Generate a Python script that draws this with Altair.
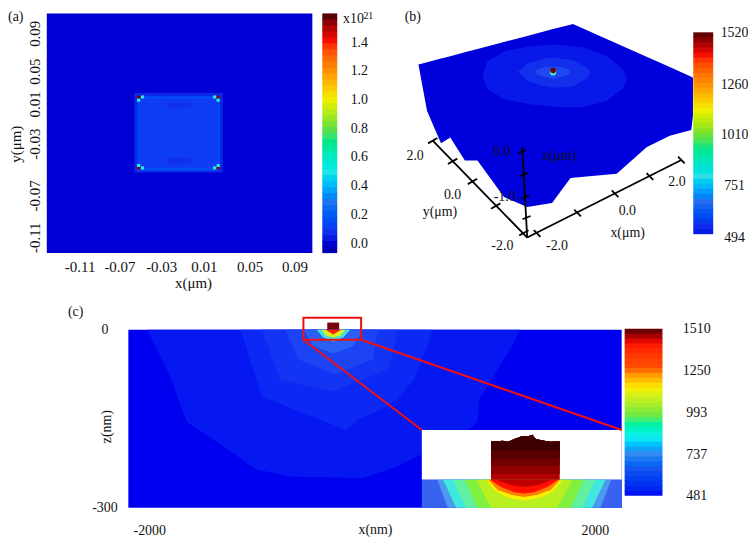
import altair as alt
import numpy as np
import pandas as pd

FONT = "Liberation Serif"
TXT = "#111111"

# ---------- panel (a): field in um ----------
a_cell_x0 = [-0.0593, -0.0565, -0.0565, -0.0565, -0.0563, 0.0175, -0.0290, -0.0290]
a_cell_x1 = [0.0227, 0.0200, 0.0200, 0.0200, -0.0541, 0.0200, -0.0068, -0.0068]
a_cell_y0 = [-0.0463, -0.0424, 0.0268, -0.0446, -0.0424, -0.0424, 0.0177, -0.0375]
a_cell_y1 = [0.0322, 0.0283, 0.0290, -0.0417, 0.0283, 0.0283, 0.0226, -0.0316]
a_cell_v = [0.06, 0.11, 0.16, 0.16, 0.14, 0.14, 0.08, 0.08]
a_spot_x = [-0.0553, 0.0184, -0.0553, 0.0184, -0.0517, 0.0151, -0.0517, 0.0151, -0.0553, 0.0184, -0.0553, 0.0184]
a_spot_y = [0.0282, 0.0282, -0.0417, -0.0417, 0.0282, 0.0282, -0.0417, -0.0417, 0.0250, 0.0250, -0.0393, -0.0393]
a_spot_v = [1.55, 1.55, 1.55, 1.55, 0.5, 0.5, 0.5, 0.5, 0.5, 0.5, 0.5, 0.5]
a_xticks = [-0.11, -0.0731, -0.0344, 0.0052, 0.0476, 0.0891]
a_yticks = [0.091, 0.0537, 0.0214, -0.0178, -0.0688, -0.11]
a_bar_labels = [0.0, 0.2, 0.4, 0.6, 0.8, 1.0, 1.2, 1.4]
a_stops = [-0.07, 0.0, 0.1, 0.3, 0.5, 0.8, 1.0, 1.2, 1.4, 1.52, 1.6]
a_colors = ["#0000a8", "#0000d4", "#1438f4", "#2878f0", "#30e8e8", "#60e040", "#f0f000", "#ff9000", "#ff1000", "#a00000", "#400000"]

# ---------- panel (b): projected surface ----------
b_u = [92, 118, 160, 188, 232, 270, 350, 420, 495, 550, 558, 690, 780, 850, 915, 920]
b_top = [190, 183, 172, 165, 153, 143, 122, 104, 84, 70, 68, 127, 167, 198, 227, 230]
b_bot = [190, 330, 428, 410, 480, 480, 590, 620, 608, 533, 532, 520, 440, 405, 388, 345]
b_e1_u = [285, 300, 350, 430, 503, 590, 660, 710, 722]
b_e1_t = [225, 180, 150, 135, 130, 138, 165, 205, 235]
b_e1_b = [225, 265, 295, 310, 318, 318, 300, 262, 235]
b_e2_u = [392, 420, 470, 503, 560, 600, 612]
b_e2_t = [212, 187, 172, 170, 178, 200, 215]
b_e2_b = [212, 240, 255, 260, 255, 232, 215]
b_e3_u = [445, 450, 470, 498, 525, 545, 550]
b_e3_t = [212, 205, 198, 196, 198, 205, 212]
b_e3_b = [212, 220, 228, 233, 228, 220, 212]
b_axis_u0 = [420, 420, 420]
b_axis_v0 = [712, 712, 712]
b_axis_u1 = [885, 135, 405]
b_axis_v1 = [478, 420, 440]
b_tick_u = [450, 572, 685, 790, 885, 135, 195, 255, 325, 410, 405, 411, 414, 418]
b_tick_v = [700, 638, 580, 528, 478, 420, 482, 543, 617, 698, 452, 522, 590, 652]
b_tick_du = [10, 10, 10, 10, 10, 14, 14, 14, 14, 14, 12, 12, 12, 12]
b_tick_dv = [10, 10, 10, 10, 10, -8, -8, -8, -8, -8, -5, -5, -5, -5]
b_text = ["2.0", "0.0", "-2.0", "y(\u03bcm)", "-1.0", "0.0", "z(\u03bcm)", "-2.0", "0.0", "2.0", "x(\u03bcm)", "(b)"]
b_text_u = [82, 195, 345, 157, 352, 343, 517, 510, 722, 872, 723, 75]
b_text_v = [465, 583, 738, 635, 590, 455, 467, 738, 632, 545, 698, 47]
b_bar_labels = [494, 751, 1010, 1260, 1520]
b_stops = [494, 560, 680, 800, 1010, 1130, 1260, 1400, 1470, 1520]
b_colors = ["#0000e0", "#1030f0", "#2a70f0", "#30e0e8", "#70e030", "#f0f000", "#ff9000", "#ff1000", "#a00000", "#500000"]

# ---------- panel (c): temperature contours ----------
c_l1_x = [-2018, -1822, -1661, -1375, -1045, -723, -80, 232, 447, 768, 947, 964, 1241, 1331]
c_l1_z = [0, -74, -156, -191, -235, -248, -250, -230, -210, -188, -154, -117, -32, 0]
c_l2_x = [-1179, -991, -661, -232, -125, 54, 232, 384, 500, 545]
c_l2_z = [0, -112, -137, -169, -151, -137, -117, -82, -25, 0]
c_l3_x = [-991, -822, -366, 143, 188, 232]
c_l3_z = [0, -84, -104, -67, -40, 0]
c_l4_x = [-777, -661, -330, 9, 36, 54]
c_l4_z = [0, -50, -75, -50, -17, 0]
c_l5_x = [-616, -527, -348, -170, -80]
c_l5_z = [0, -28, -40, -28, 0]
c_l6_x = [-500, -437, -348, -259, -196]
c_l6_z = [0, -13, -20, -13, 0]
c_l7_x = [-455, -411, -348, -286, -241]
c_l7_z = [0, -10, -13, -10, 0]
c_l8_x = [-420, -348, -277]
c_l8_z = [0, -8, 0]
c_inset_off = [
    ([780, 685], [-253, -300], "#4c9af0"),
    ([729, 610], [-253, -300], "#40e8e0"),
    ([640, 521], [-253, -300], "#60f0a0"),
    ([536, 417], [-253, -300], "#80f040"),
    ([432, 298], [-253, -300], "#b8f020"),
    ([342, 268, 149, 0], [-253, -271, -283, -288], "#f8f000"),
    ([321, 238, 119, 0], [-253, -270, -278, -282], "#ff8000"),
    ([307, 208, 89, 0], [-253, -265, -274, -276], "#ff1000"),
    ([253, 119, 0], [-253, -262, -265], "#c00000"),
]
c_block_x = [1068, 1128, 1172, 1217, 1277, 1351, 1396, 1440, 1470, 1545, 1604, 1685]
c_block_z = [-188, -188, -187, -189, -184, -179, -180, -177, -184, -187, -189, -188]
c_band_bottom = [-253, -243, -229, -218, -203]
c_band_color = ["#b00000", "#900000", "#700000", "#5a0000", "#3c0000"]
c_bar_labels = [481, 737, 993, 1250, 1510]
c_stops = [481, 640, 755, 840, 980, 1082, 1143, 1235, 1265, 1418, 1460, 1510]
c_colors = ["#0000f0", "#1850f0", "#4090f0", "#40f0f0", "#70e840", "#c8f020", "#f8f000", "#ff9000", "#ff5000", "#ff1000", "#b00000", "#500000"]


def colorbar(lo, hi, n, domain, y_range, x_range, stops, colors, labels, fmt, pad, align, offset):
    """Banded colour bar with its own scales, drawn through a right-hand axis."""
    edges = np.linspace(lo, hi, n + 1)
    step = edges[1] - edges[0]
    df = pd.DataFrame({"lo": edges[:-1], "x0": 0, "x1": 1})
    df["hi"] = np.minimum(edges[1:] + 0.15 * step, hi)
    df["v"] = df.lo + step / 2
    return alt.Chart(df).mark_rect().encode(
        x=alt.X("x0:Q", scale=alt.Scale(domain=[0, 1], range=x_range), axis=None),
        x2="x1:Q",
        y=alt.Y("lo:Q", scale=alt.Scale(domain=domain, range=y_range, nice=False, zero=False),
                axis=alt.Axis(orient="right", values=labels, format=fmt, title=None, grid=False, domain=False,
                              ticks=False, labelFont=FONT, labelFontSize=14, labelColor=TXT, labelAlign=align,
                              labelPadding=pad, offset=offset, labelFlush=False, labelOverlap=False)),
        y2="hi:Q",
        color=alt.Color("v:Q", scale=alt.Scale(domain=stops, range=colors), legend=None),
    )


# ----- (a) -----
AX_D = [-0.1404, 0.1057]
AY_D = [-0.1257, 0.1106]
sx = alt.Scale(domain=AX_D, nice=False, zero=False)
sy = alt.Scale(domain=AY_D, nice=False, zero=False)
grid_expr = "(round((datum.value-0.01)/0.04)*0.04+0.01<0?'-':'')+format(abs(round((datum.value-0.01)/0.04)*0.04+0.01),'.2f')"

a_bg = pd.DataFrame({"x0": [AX_D[0]], "x1": [AX_D[1]], "y0": [AY_D[0]], "y1": [AY_D[1]], "v": [0.0]})
a_cells = pd.DataFrame({"x0": a_cell_x0, "x1": a_cell_x1, "y0": a_cell_y0, "y1": a_cell_y1, "v": a_cell_v})
a_spots = pd.DataFrame({"x": a_spot_x, "y": a_spot_y, "v": a_spot_v})
a_spots["x0"] = a_spots.x - 0.0015
a_spots["x1"] = a_spots.x + 0.0015
a_spots["y0"] = a_spots.y - 0.0015
a_spots["y1"] = a_spots.y + 0.0015
a_all = pd.concat([a_bg, a_cells, a_spots[["x0", "x1", "y0", "y1", "v"]]], ignore_index=True)
a_all["order"] = range(len(a_all))

a_rect = alt.Chart(a_all).mark_rect().encode(
    x=alt.X("x0:Q", scale=sx, axis=alt.Axis(
        values=a_xticks, labelExpr=grid_expr, title="x(\u03bcm)", grid=False, domain=False,
        ticks=False, labelFont=FONT, labelFontSize=15, labelColor=TXT, labelPadding=6,
        titleFont=FONT, titleFontSize=15, titleFontWeight="normal", titleColor=TXT,
        titleX=147, titleY=30, titleBaseline="middle", labelOverlap=False, labelFlush=False)),
    x2="x1:Q",
    y=alt.Y("y0:Q", scale=sy, axis=alt.Axis(
        values=a_yticks, labelExpr=grid_expr, title="y(\u03bcm)", grid=False, domain=False,
        ticks=False, labelAngle=-90, labelAlign="center", labelBaseline="middle", labelFont=FONT,
        labelFontSize=15, labelColor=TXT, labelPadding=12, titleFont=FONT, titleFontSize=15,
        titleFontWeight="normal", titleColor=TXT, titleX=-31, titleY=131, titleBaseline="middle",
        labelOverlap=False, labelFlush=False)),
    y2="y1:Q",
    color=alt.Color("v:Q", scale=alt.Scale(domain=a_stops, range=a_colors), legend=None),
    order="order:Q",
)


def a_label(x, y, t, size):
    df = pd.DataFrame({"x": [x], "y": [y], "t": [t]})
    return alt.Chart(df).mark_text(align="left", baseline="middle", font=FONT, color=TXT, fontSize=size).encode(
        x=alt.X("x:Q", scale=sx), y=alt.Y("y:Q", scale=sy), text="t:N")


a_main = alt.layer(
    a_rect,
    a_label(-0.1763, 0.1067, "(a)", 14),
    a_label(0.1342, 0.1052, "x10", 14),
    a_label(0.1530, 0.1077, "21", 10),
)
a_bar = colorbar(-0.07, 1.6, 40, [-0.07, 1.6], [241, 0], [277, 292], a_stops, a_colors,
                 a_bar_labels, ".1f", 13, "left", 25)
panel_a = alt.layer(a_main, a_bar).resolve_scale(x="independent", y="independent", color="independent").properties(width=267, height=241)

# ----- (b) -----
UD = [90, 921]
VD = [759, 36]
su = alt.Scale(domain=UD, nice=False, zero=False)
sv = alt.Scale(domain=VD, nice=False, zero=False)


def b_area(u, t, b, col):
    df = pd.DataFrame({"u": u, "t": t, "b": b})
    return alt.Chart(df).mark_area(color=col, interpolate="linear").encode(
        x=alt.X("u:Q", scale=su, axis=None),
        y=alt.Y("t:Q", scale=sv, axis=None),
        y2="b:Q",
    )


def b_dot(u, v, col, size):
    df = pd.DataFrame({"u": [u], "v": [v]})
    return alt.Chart(df).mark_point(filled=True, opacity=1, strokeWidth=0, color=col, size=size).encode(
        x=alt.X("u:Q", scale=su, axis=None), y=alt.Y("v:Q", scale=sv, axis=None))


b_axes = pd.DataFrame({"u0": b_axis_u0, "v0": b_axis_v0, "u1": b_axis_u1, "v1": b_axis_v1})
b_ticks = pd.DataFrame({"u": b_tick_u, "v": b_tick_v, "du": b_tick_du, "dv": b_tick_dv})
b_ticks["u0"] = b_ticks.u - b_ticks.du
b_ticks["u1"] = b_ticks.u + b_ticks.du
b_ticks["v0"] = b_ticks.v - b_ticks.dv
b_ticks["v1"] = b_ticks.v + b_ticks.dv
b_segments = pd.concat([b_axes, b_ticks[["u0", "v0", "u1", "v1"]]], ignore_index=True)
b_rules = alt.Chart(b_segments).mark_rule(color="#000000", strokeWidth=1.8).encode(
    x=alt.X("u0:Q", scale=su, axis=None), y=alt.Y("v0:Q", scale=sv, axis=None), x2="u1:Q", y2="v1:Q",
)
b_labels = pd.DataFrame({"u": b_text_u, "v": b_text_v, "t": b_text})
b_txt = alt.Chart(b_labels).mark_text(font=FONT, fontSize=14, color=TXT, baseline="middle").encode(
    x=alt.X("u:Q", scale=su, axis=None), y=alt.Y("v:Q", scale=sv, axis=None), text="t:N",
)
b_main = alt.layer(
    b_area(b_u, b_top, b_bot, "#0000dc"),
    b_area(b_e1_u, b_e1_t, b_e1_b, "#0818e8"),
    b_area(b_e2_u, b_e2_t, b_e2_b, "#1230ec"),
    b_area(b_e3_u, b_e3_t, b_e3_b, "#1e48f2"),
    b_dot(498, 214, "#40e8d0", 40), b_dot(498, 208, "#700000", 30),
    b_rules, b_txt,
)
b_bar = colorbar(509, 1520, 40, [494, 1520], [225, 19], [277, 297], b_stops, b_colors,
                 b_bar_labels, "d", 21, "center", 20)
panel_b = alt.layer(b_main, b_bar).resolve_scale(x="independent", y="independent", color="independent").properties(width=277, height=241)

# ----- (c) -----
CX_D = [-2187.5, 2241]
CZ_D = [-300, 0]
scx = alt.Scale(domain=CX_D, range=[82, 578], nice=False, zero=False)
scz = alt.Scale(domain=CZ_D, nice=False, zero=False)


def c_x(field="x"):
    return alt.X(f"{field}:Q", scale=scx)


def c_z(field="z"):
    return alt.Y(f"{field}:Q", scale=scz)


def contour(xs, zs, col):
    df = pd.DataFrame({"x": xs, "z": zs, "top": [0] * len(xs)})
    return alt.Chart(df).mark_area(color=col, interpolate="linear").encode(
        x=c_x(), y=c_z(), y2="top:Q")


c_bg = pd.DataFrame({"x": [CX_D[0], CX_D[1]], "z": [-300, -300], "top": [0, 0]})
c_base = alt.Chart(c_bg).mark_area(interpolate="linear", color="#0000f0").encode(
    x=alt.X("x:Q", scale=scx, axis=alt.Axis(
        values=[-2000, 2000], title="x(nm)", grid=False, domain=False, ticks=False,
        labelExpr="(datum.value<0?'-':'')+abs(datum.value)",
        labelFont=FONT, labelFontSize=14, labelColor=TXT, labelPadding=16,
        titleFont=FONT, titleFontSize=14, titleFontWeight="normal", titleColor=TXT,
        titleX=330, titleY=22, titleBaseline="middle", labelFlush=False)),
    y=alt.Y("z:Q", scale=scz, axis=alt.Axis(
        values=[-300, 0], title="z(nm)", grid=False, domain=False, ticks=False,
        offset=-82, labelExpr="(datum.value<0?'-':'')+abs(datum.value)",
        labelFont=FONT, labelFontSize=14, labelColor=TXT, labelPadding=24, labelAlign="center",
        labelFlush=False, titleFont=FONT, titleFontSize=14, titleFontWeight="normal", titleColor=TXT,
        titleX=-22, titleY=97, titleBaseline="middle")),
    y2="top:Q",
)
c_layers = [
    c_base,
    contour(c_l1_x, c_l1_z, "#0618f2"),
    contour(c_l2_x, c_l2_z, "#0c28f4"),
    contour(c_l3_x, c_l3_z, "#1434f4"),
    contour(c_l4_x, c_l4_z, "#1c44f4"),
    contour(c_l5_x, c_l5_z, "#2c60f4"),
    contour(c_l6_x, c_l6_z, "#40e0e0"),
    contour(c_l7_x, c_l7_z, "#d8f020"),
    contour(c_l8_x, c_l8_z, "#ff2000"),
]


def box(x0, x1, z0, z1, fill, **kw):
    df = pd.DataFrame({"x0": [x0], "x1": [x1], "z0": [z0], "z1": [z1]})
    return alt.Chart(df).mark_rect(fill=fill, **kw).encode(
        x=c_x("x0"), x2="x1:Q", y=c_z("z0"), y2="z1:Q")


c_layers.append(box(-402, -295, 0, 12, "#7a0010"))
c_layers.append(box(447, 2241, -169, -253, "#ffffff"))
c_layers.append(box(447, 2241, -253, -300, "#3a62f0"))
for xoff, zv, col in c_inset_off:
    if zv[-1] == -300:
        xs = [1366 - xoff[0], 1366 - xoff[1], 1366 + xoff[1], 1366 + xoff[0]]
        zs = [-253, -300, -300, -253]
    else:
        left = [1366 - o for o in xoff]
        right = [1366 + o for o in reversed(xoff[:-1])]
        xs = left + right
        zs = list(zv) + list(reversed(zv[:-1]))
    df = pd.DataFrame({"x": xs, "z": zs, "top": [-253] * len(xs)})
    c_layers.append(alt.Chart(df).mark_area(color=col, interpolate="linear").encode(
        x=c_x(), y=c_z(), y2="top:Q"))
for low, col in zip(c_band_bottom, c_band_color):
    df = pd.DataFrame({"x": c_block_x, "z": [low] * len(c_block_x), "top": c_block_z})
    c_layers.append(alt.Chart(df).mark_area(color=col, interpolate="linear").encode(
        x=c_x(), y=c_z(), y2="top:Q"))

red_lines = pd.DataFrame({"x0": [-616, -98], "z0": [-17, -17], "x1": [447, 2241], "z1": [-169, -169]})
c_layers.append(alt.Chart(red_lines).mark_rule(color="#f01010", strokeWidth=2).encode(
    x=c_x("x0"), x2="x1:Q", y=c_z("z0"), y2="z1:Q"))
c_layers.append(box(-616, -98, 20, -17, "transparent", stroke="#f01010", strokeWidth=2))
c_panel_label = pd.DataFrame({"x": [-2661], "z": [30], "t": ["(c)"]})
c_layers.append(alt.Chart(c_panel_label).mark_text(font=FONT, fontSize=14, color=TXT).encode(
    x=c_x(), y=c_z(), text="t:N"))
c_main = alt.layer(*c_layers)
c_bar = colorbar(481, 1510, 34, [481, 1510], [167, -1], [581, 619], c_stops, c_colors,
                 c_bar_labels, "d", 34, "center", 41)
panel_c = alt.layer(c_main, c_bar).resolve_scale(x="independent", y="independent", color="independent").properties(width=578, height=179)

top = alt.hconcat(panel_a, panel_b, spacing=106, bounds="flush")
chart = alt.vconcat(top, panel_c, spacing=14).properties(
    padding={"left": 0, "top": 0, "right": 0, "bottom": 0},
    background="#ffffff",
).configure_view(strokeWidth=0, stroke="transparent")
chart.save("out.html", embed_options={"renderer": "svg", "actions": False})
